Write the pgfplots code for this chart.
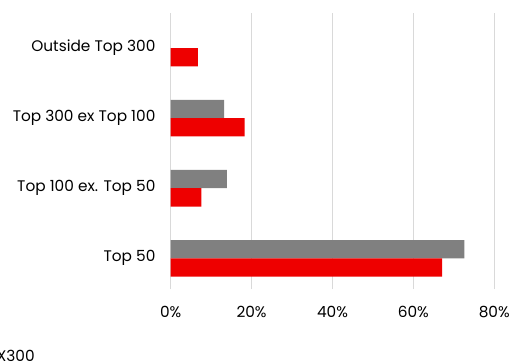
\documentclass[border=0pt]{standalone}
\usepackage{fontspec}
\setmainfont{Poppins}
\usepackage{pgfplots}
\pgfplotsset{compat=1.18}
\definecolor{barred}{RGB}{238,0,0}
\definecolor{bargrey}{RGB}{128,128,128}
\definecolor{gridgrey}{RGB}{217,217,217}
\begin{document}
\begin{tikzpicture}[font=\fontsize{11.5bp}{13.5bp}\selectfont]
\begin{axis}[
  scale only axis,
  width=242.7bp, height=207.2bp,
  xbar, bar width=0.261,
  xmin=0, xmax=80,
  ymin=-0.438, ymax=3.504,
  axis line style={draw=none},
  xtick={0,20,40,60,80},
  xticklabels={0\%,20\%,40\%,60\%,80\%},
  xmajorgrids, major grid style={gridgrey, line width=0.75bp},
  major tick length=0pt,
  ytick={0,1,2,3},
  yticklabels={Top 50,Top 100 ex. Top 50,Top 300 ex Top 100,Outside Top 300},
  xticklabel style={anchor=center, yshift=-17.3bp, inner sep=0pt},
  yticklabel style={anchor=east, xshift=-11.25bp, inner sep=0pt},
  /pgf/number format/assume math mode=true,
  clip=false,
]
\addplot[draw=none, fill=bargrey, bar shift=0.1305] coordinates {(72.6,0) (13.9,1) (13.2,2)};
\addplot[draw=none, fill=barred, bar shift=-0.1305] coordinates {(67.1,0) (7.6,1) (18.3,2) (6.7,3)};
\coordinate (O) at (rel axis cs:0,0);
\end{axis}
\pgfresetboundingbox
\path[use as bounding box] (O) ++(-128.0bp,-55.5bp) rectangle ++(382.5bp,272.25bp);
\path (O) ++(-101.75bp,-54bp) node[anchor=base east, inner sep=0pt] {X300};
\end{tikzpicture}
\end{document}
